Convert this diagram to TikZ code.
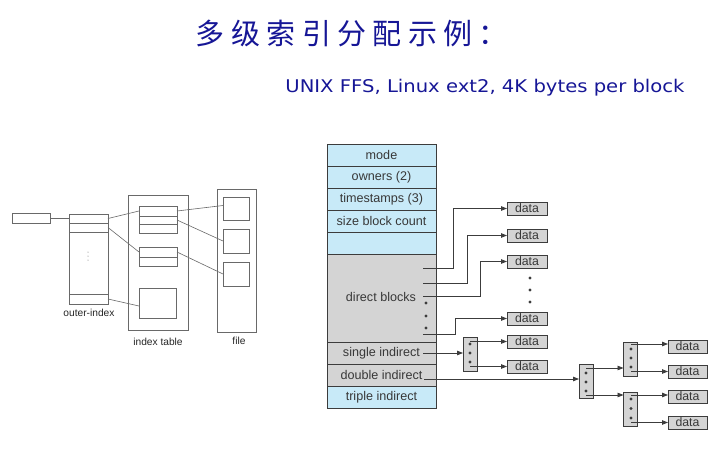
\documentclass[tikz,border=0pt]{standalone}
\usepackage{fontspec}
\setmainfont{Liberation Sans}
\newfontfamily\cjk[LetterSpace=22]{Noto Sans CJK SC}
\newfontfamily\subfont[FakeStretch=1.12]{DejaVu Sans}
\usetikzlibrary{arrows.meta,calc}
\definecolor{ttl}{RGB}{22,22,150}
\definecolor{lblue}{RGB}{200,234,248}
\definecolor{lgray}{RGB}{212,212,212}
\definecolor{edgec}{RGB}{60,60,60}
\definecolor{thinc}{RGB}{105,105,105}
\tikzset{
  lrect/.style={draw=thinc, line width=0.6pt, fill=white, anchor=north west, inner sep=0pt, outer sep=0pt},
  lline/.style={draw=thinc, line width=0.6pt},
  lbl/.style={font=\fontsize{10.2}{12}\selectfont, text=black!85},
  cell/.style={draw=edgec, line width=0.7pt, anchor=north west, minimum width=109pt, inner sep=0pt, outer sep=0pt, font=\fontsize{12.6}{14}\selectfont, text=black!78},
  datab/.style={draw=edgec, line width=0.7pt, fill=lgray, anchor=north west, minimum width=40pt, minimum height=13pt, inner sep=0pt, outer sep=0pt, font=\fontsize{12.3}{13}\selectfont, text=black!78},
  iblk/.style={draw=edgec, line width=0.7pt, fill=lgray, anchor=north west, minimum width=14pt, minimum height=34pt, inner sep=0pt, outer sep=0pt},
  arr/.style={draw=edgec, line width=0.8pt, -{Triangle[length=6pt,width=4.5pt]}},
  dotc/.style={fill=edgec}
}
\begin{document}
\begin{tikzpicture}[x=1pt,y=-1pt]
\useasboundingbox (0,0) rectangle (715,472);
\fill[white] (0,0) rectangle (715,472);

% titles
\node[font=\cjk\fontsize{29}{32}\selectfont, text=ttl] (title) at (352,33) {多级索引分配示例：};
\node[font=\subfont\fontsize{17.5}{20}\selectfont, text=ttl] (sub) at (485,88) {UNIX FFS, Linux ext2, 4K bytes per block};

% ---------- left diagram ----------
\node[lrect, minimum width=38pt, minimum height=10pt] (ptr) at (12,213) {};
\node[lrect, minimum width=39pt, minimum height=90pt] (outer) at (69,214) {};
\node[lrect, minimum width=39pt, minimum height=9pt] (o1) at (69,214) {};
\node[lrect, minimum width=39pt, minimum height=9pt] (o2) at (69,223) {};
\node[lrect, minimum width=39pt, minimum height=10pt] (o9) at (69,294) {};
\foreach \yy in {252,256,260} \fill[thinc] (88,\yy) circle (0.5pt);
\node[lbl] (olab) at (89,313) {outer-index};

\node[lrect, minimum width=60pt, minimum height=135pt] (itab) at (128,195) {};
\node[lbl] (ilab) at (158,342) {index table};
\node[lrect, minimum width=38pt, minimum height=10pt] (b1r1) at (139,206) {};
\node[lrect, minimum width=38pt, minimum height=8pt] (b1r2) at (139,216) {};
\node[lrect, minimum width=38pt, minimum height=9pt] (b1r3) at (139,224) {};
\node[lrect, minimum width=38pt, minimum height=10pt] (b2r1) at (139,247) {};
\node[lrect, minimum width=38pt, minimum height=9pt] (b2r2) at (139,257) {};
\node[lrect, minimum width=37pt, minimum height=30pt] (b3) at (139,288) {};

\node[lrect, minimum width=39pt, minimum height=143pt] (ftab) at (217,189) {};
\node[lbl] (flab) at (239,341) {file};
\node[lrect, minimum width=26pt, minimum height=23pt] (f1) at (223,197) {};
\node[lrect, minimum width=26pt, minimum height=24pt] (f2) at (223,229) {};
\node[lrect, minimum width=26pt, minimum height=24pt] (f3) at (223,262) {};

\draw[lline] (ptr.east) -- (ptr.east -| o1.west);
\draw[lline] (o1.east) -- (b1r1.west);
\draw[lline] (o2.east) -- (b2r1.west);
\draw[lline] (o9.east) -- ($(b3.west)+(0,3)$);
\draw[lline] (b1r1.east) -- ($(f1.west)+(0,-3)$);
\draw[lline] (b1r2.east) -- (f2.west);
\draw[lline] (b2r1.east) -- (f3.west);

% ---------- right diagram ----------
\node[cell, fill=lblue, minimum height=22.5pt] (mode) at (327,144) {mode};
\node[cell, fill=lblue, minimum height=21.5pt] (own) at (327,166.5) {owners (2)};
\node[cell, fill=lblue, minimum height=22.5pt] (ts) at (327,188) {timestamps (3)};
\node[cell, fill=lblue, minimum height=21.5pt] (sz) at (327,210.5) {size block count};
\node[cell, fill=lblue, minimum height=22pt] (blank) at (327,232) {};
\node[cell, fill=lgray, minimum height=88pt] (direct) at (327,254) {};
\node[font=\fontsize{12.6}{14}\selectfont, text=black!78] (dlab) at (381,297) {direct blocks};
\node[cell, fill=lgray, minimum height=22pt] (single) at (327,342) {single indirect};
\node[cell, fill=lgray, minimum height=22pt] (double) at (327,364) {double indirect};
\node[cell, fill=lblue, minimum height=22pt] (triple) at (327,386) {triple indirect};

% data column 1
\node[datab] (d1) at (507,202) {data};
\node[datab] (d2) at (507,229) {data};
\node[datab] (d3) at (507,255) {data};
\node[datab] (d4) at (507,312) {data};
\node[datab] (d5) at (507,335) {data};
\node[datab] (d6) at (507,360) {data};
\foreach \yy in {278,290,302} \fill[dotc] (530,\yy) circle (1.7pt);

% direct pointers
\coordinate (p1) at (423,268);
\coordinate (p2) at (423,283);
\coordinate (p3) at (423,296);
\coordinate (p4) at (423,334);
\foreach \yy in {303,316,328} \fill[dotc] (426,\yy) circle (1.7pt);
\draw[arr] (p1) -- (453,268) |- (d1.west);
\draw[arr] (p2) -- (467,283) |- (d2.west);
\draw[arr] (p3) -- (480,296) |- (d3.west);
\draw[arr] (p4) -- (455,334) |- (d4.west);

% single indirect
\node[iblk] (ib1) at (463,337) {};
\foreach \yy in {344,353,362} \fill[dotc] (470,\yy) circle (1.7pt);
\coordinate (s0) at (423,353);
\draw[arr] (s0) -- (s0 -| ib1.west);
\coordinate (s1) at (470,341.5);
\coordinate (s2) at (470,366.5);
\draw[arr] (s1) -- (s1 -| d5.west);
\draw[arr] (s2) -- (s2 -| d6.west);

% double indirect
\node[iblk] (ib2) at (579,364.5) {};
\foreach \yy in {373,382,391} \fill[dotc] (586,\yy) circle (1.7pt);
\coordinate (t0) at (424,379);
\draw[arr] (t0) -- (t0 -| ib2.west);

\node[iblk] (ib3) at (623.5,342) {};
\node[iblk] (ib4) at (623.5,392) {};
\foreach \yy in {349,358,367} \fill[dotc] (631,\yy) circle (1.7pt);
\foreach \yy in {399,408.5,418} \fill[dotc] (631,\yy) circle (1.7pt);
\coordinate (u1) at (586,368);
\coordinate (u2) at (586,395);
\draw[arr] (u1) -- (u1 -| ib3.west);
\draw[arr] (u2) -- (u2 -| ib4.west);

\node[datab, minimum width=39pt] (r1) at (668,340) {data};
\node[datab, minimum width=39pt] (r2) at (668,365) {data};
\node[datab, minimum width=39pt] (r3) at (668,390) {data};
\node[datab, minimum width=39pt] (r4) at (668,416) {data};
\coordinate (v1) at (631,344);
\coordinate (v2) at (631,371.5);
\coordinate (v3) at (631,395);
\coordinate (v4) at (631,422.5);
\draw[arr] (v1) -- (v1 -| r1.west);
\draw[arr] (v2) -- (v2 -| r2.west);
\draw[arr] (v3) -- (v3 -| r3.west);
\draw[arr] (v4) -- (v4 -| r4.west);
\end{tikzpicture}
\end{document}
